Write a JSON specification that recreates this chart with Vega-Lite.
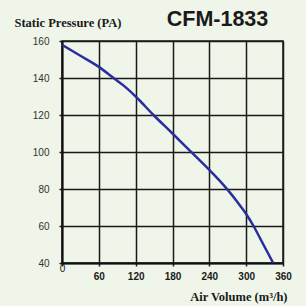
{
  "$schema": "https://vega.github.io/schema/vega-lite/v6.json",
  "autosize": "none",
  "width": 221,
  "height": 222,
  "padding": {"left": 62, "top": 41, "right": 23, "bottom": 43},
  "background": "#eff5e9",
  "title": {
    "text": "CFM-1833",
    "font": "Liberation Sans",
    "fontSize": 21.5,
    "fontWeight": "bold",
    "color": "#1a1a1a",
    "anchor": "middle",
    "dx": 45,
    "dy": 18,
    "offset": 4
  },
  "data": {
    "values": [
      {"airflow": 0, "pressure": 158},
      {"airflow": 30, "pressure": 152},
      {"airflow": 60, "pressure": 146},
      {"airflow": 84, "pressure": 140},
      {"airflow": 100, "pressure": 136},
      {"airflow": 120, "pressure": 130},
      {"airflow": 149, "pressure": 120},
      {"airflow": 180, "pressure": 110},
      {"airflow": 212, "pressure": 99.5},
      {"airflow": 240, "pressure": 90.3},
      {"airflow": 256, "pressure": 84.8},
      {"airflow": 270, "pressure": 79.5},
      {"airflow": 286, "pressure": 72.8},
      {"airflow": 300, "pressure": 66.5},
      {"airflow": 312, "pressure": 60},
      {"airflow": 328, "pressure": 50},
      {"airflow": 344, "pressure": 40}
    ]
  },
  "mark": {"type": "line", "color": "#2a2e9c", "strokeWidth": 2.5, "interpolate": "monotone", "clip": true},
  "encoding": {
    "x": {
      "field": "airflow",
      "type": "quantitative",
      "scale": {"domain": [0, 360], "nice": false},
      "axis": {
        "values": [0, 60, 120, 180, 240, 300, 360],
        "title": "Air Volume (m³/h)",
        "titleFont": "Liberation Serif",
        "titleFontSize": 12.5,
        "titleFontWeight": "bold",
        "titleColor": "#1a1a1a",
        "titleAlign": "right",
        "titleBaseline": "alphabetic",
        "titleX": 225,
        "titleY": 37,
        "labelFont": "Liberation Sans",
        "labelFontSize": 10,
        "labelFontWeight": {"condition": {"test": "datum.value == 0", "value": "normal"}, "value": "bold"},
        "labelPadding": {"condition": {"test": "datum.value == 0", "value": -2.5}, "value": 5},
        "labelColor": "#1a1a1a",
        "labelFlush": false,
        "tickSize": 3,
        "tickColor": "#1a1a1a",
        "tickWidth": 1.5,
        "domainColor": "#111111",
        "domainWidth": 2,
        "grid": true,
        "gridColor": "#1a1a1a",
        "gridWidth": 1.5,
        "gridOpacity": 1
      }
    },
    "y": {
      "field": "pressure",
      "type": "quantitative",
      "scale": {"domain": [40, 160], "nice": false},
      "axis": {
        "values": [40, 60, 80, 100, 120, 140, 160],
        "title": "Static Pressure (PA)",
        "titleFont": "Liberation Serif",
        "titleFontSize": 12.5,
        "titleFontWeight": "bold",
        "titleColor": "#1a1a1a",
        "titleAngle": 0,
        "titleAlign": "left",
        "titleBaseline": "alphabetic",
        "titleX": -48,
        "titleY": -15,
        "labelFont": "Liberation Sans",
        "labelFontSize": 10,
        "labelColor": "#333333",
        "labelPadding": 10,
        "labelFlush": false,
        "tickSize": 3,
        "tickColor": "#1a1a1a",
        "tickWidth": 1.5,
        "domainColor": "#111111",
        "domainWidth": 2,
        "grid": true,
        "gridColor": "#1a1a1a",
        "gridWidth": 1.5,
        "gridOpacity": 1
      }
    }
  },
  "config": {"view": {"stroke": "#1a1a1a", "strokeWidth": 1.5}}
}
